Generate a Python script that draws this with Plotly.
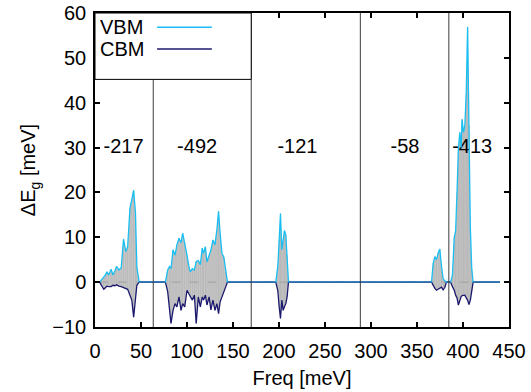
import plotly.graph_objects as go
import numpy as np

# ---- data ----
freq = [5, 7, 9.5, 11, 13, 15, 17.5, 19.5, 21.5, 23.5, 26, 28.5, 31, 33.5, 35.5, 38, 40, 42, 44, 45.5, 48,
        76.5, 79, 81, 82.6, 84.8, 87, 89, 91.3, 93.5, 95.3, 97.5, 100, 102, 103.6, 105.8, 108, 110, 112.3,
        114.5, 116.6, 118, 120, 121.7, 124, 126, 128.2, 130.4, 132.5, 134.3, 136, 138, 140, 142, 144,
        196.5, 198.7, 200.2, 201.6, 203.1, 204.5, 205.9, 207.4, 208.8, 210.3,
        365.8, 367.6, 369.4, 371.2, 373, 374.8, 376.6, 378.4, 380.2, 382,
        386.5, 388.5, 390.5, 392, 393.5, 395, 396.5, 398, 399, 400.5, 402, 403.5, 405, 406.5, 408, 409.5, 411,
        440]

vbm = [0, 0.5, 0.9, 1.5, 2.3, 1.6, 2.9, 1.6, 2.5, 3.5, 2.7, 3.2, 9.6, 6.8, 7.9, 16.5, 18.4, 20.5, 15.4, 3.4, 0,
       0, 2.7, 3.5, 3.0, 7.2, 6.0, 8.3, 9.8, 8.8, 10.9, 8.8, 6.0, 3.5, 2.3, 3.0, 2.7, 4.6, 4.8,
       3.9, 7.6, 6.4, 7.9, 4.5, 6.0, 7.2, 9.4, 8.3, 11.7, 15.8, 10.9, 6.4, 5.6, 2.3, 0,
       0, 3.5, 9.4, 15.3, 7.2, 9.0, 11.5, 10.5, 6.0, 0,
       0, 4.2, 5.7, 5.0, 6.5, 7.4, 3.6, 0.8, 0.3, 0,
       0, 1.5, 10.0, 11.5, 20, 29.6, 33.4, 30, 36.3, 33.4, 34.9, 42, 56.9, 35, 12, 3, 0,
       0]

cbm = [0, -0.8, -1.6, -1.3, -0.9, -1.0, -1.0, -0.7, -0.8, -0.6, -0.9, -1.0, -1.2, -1.4, -1.6, -2.9, -4.0, -7.8, -3.1, -0.7, 0,
       0, -2.1, -6.3, -9.2, -6.3, -4.8, -5.5, -3.3, -6.3, -4.8, -5.5, -1.8, -2.6, -3.3, -4.0, -2.9, -9.2, -3.3,
       -5.5, -3.3, -4.0, -2.9, -5.1, -3.3, -6.2, -4.0, -6.3, -4.8, -7.0, -4.4, -3.3, -2.2, -1.1, 0,
       0, -1.9, -5.5, -8.1, -4.0, -6.3, -5.5, -4.8, -3.3, 0,
       0, -0.8, -1.4, -1.8, -1.5, -1.2, -1.1, -1.7, -1.2, 0,
       0, -1.0, -1.8, -2.9, -3.5, -5.1, -4.0, -3.2, -3.0, -3.0, -2.9, -3.5, -4.0, -5.0, -4.0, -2.0, 0,
       0]

boundaries = [63.3, 169.8, 288.4, 384.6]
region_labels = ["-217", "-492", "-121", "-58", "-413"]
label_x = [31, 111, 220, 337, 410]
label_y = [30, 30, 30, 30, 30]

x_ticks = [0, 50, 100, 150, 200, 250, 300, 350, 400, 450]
y_ticks = [-10, 0, 10, 20, 30, 40, 50, 60]

VBM_COLOR = "#19bff2"
CBM_COLOR = "#1c1a6e"
FONT = "Liberation Sans, Arial, sans-serif"
FS = 20

fig = go.Figure()

# gray fill between CBM and VBM
fig.add_trace(go.Scatter(x=freq, y=cbm, mode="lines", line=dict(width=0, color="rgba(0,0,0,0)"),
                         showlegend=False, hoverinfo="skip"))
fig.add_trace(go.Scatter(x=freq, y=vbm, mode="lines", line=dict(width=0, color="rgba(0,0,0,0)"),
                         fill="tonexty", fillcolor="#c8c8c8", showlegend=False, hoverinfo="skip"))

# impulses inside the fill
ix, iy = [], []
for xv, lo, hi in zip(freq, cbm, vbm):
    if hi != lo:
        ix += [xv, xv, None]
        iy += [lo, hi, None]
fig.add_trace(go.Scatter(x=ix, y=iy, mode="lines", line=dict(width=1, color="#b8b8b8"),
                         showlegend=False, hoverinfo="skip"))

# dashed zero inside filled areas
fig.add_trace(go.Scatter(x=[freq[0], freq[-1]], y=[0, 0], mode="lines",
                         line=dict(width=1, color="#a0a0a0", dash="dash"),
                         showlegend=False, hoverinfo="skip"))

# region labels (over the fill, under the curves)
fig.add_trace(go.Scatter(x=label_x, y=label_y, mode="text", text=region_labels,
                         textfont=dict(family=FONT, size=FS, color="black"),
                         showlegend=False, hoverinfo="skip"))

fig.add_trace(go.Scatter(x=freq, y=cbm, mode="lines", name="CBM",
                         line=dict(width=1.3, color=CBM_COLOR), showlegend=False))
fig.add_trace(go.Scatter(x=freq, y=vbm, mode="lines", name="VBM",
                         line=dict(width=1.3, color=VBM_COLOR), showlegend=False))

# overlapping flat parts (both zero) look steel blue
zx, zy = [], []
for i in range(len(freq) - 1):
    if vbm[i] == 0 and vbm[i + 1] == 0 and cbm[i] == 0 and cbm[i + 1] == 0:
        zx += [freq[i], freq[i + 1], None]
        zy += [0, 0, None]
fig.add_trace(go.Scatter(x=zx, y=zy, mode="lines", line=dict(width=1.5, color="#2e66a6"),
                         showlegend=False, hoverinfo="skip"))

# vertical separators
shapes = []
legend_bottom = 45.2
for i, b in enumerate(boundaries):
    top = legend_bottom if b < boundaries[1] else 60
    shapes.append(dict(type="line", xref="x", yref="y", x0=b, x1=b, y0=-10, y1=top,
                       line=dict(color="#3c3c3c", width=1)))

# legend box (gnuplot style: text left, sample right)
shapes.append(dict(type="rect", xref="x", yref="y", x0=0, x1=boundaries[1], y0=legend_bottom, y1=60,
                   line=dict(color="black", width=1), fillcolor="white", layer="above"))
shapes.append(dict(type="line", xref="x", yref="y", x0=67.5, x1=127, y0=56.8, y1=56.8,
                   line=dict(color=VBM_COLOR, width=1.5), layer="above"))
shapes.append(dict(type="line", xref="x", yref="y", x0=67.5, x1=127, y0=52.0, y1=52.0,
                   line=dict(color=CBM_COLOR, width=1.5), layer="above"))

annotations = [
    dict(x=3.0, y=56.8, xref="x", yref="y", text="VBM", showarrow=False, xanchor="left",
         yanchor="middle", font=dict(family=FONT, size=FS, color="black")),
    dict(x=3.0, y=52.0, xref="x", yref="y", text="CBM", showarrow=False, xanchor="left",
         yanchor="middle", font=dict(family=FONT, size=FS, color="black")),
]

axis_common = dict(showline=True, linecolor="black", linewidth=1.5, mirror="ticks",
                   ticks="inside", ticklen=5, tickwidth=1.5, tickcolor="black",
                   showgrid=False, zeroline=False, automargin=False,
                   tickfont=dict(family=FONT, size=FS, color="black"))

fig.update_layout(
    width=531, height=392,
    margin=dict(l=95, r=22, t=13, b=65),
    paper_bgcolor="white", plot_bgcolor="white",
    shapes=shapes, annotations=annotations,
    xaxis=dict(range=[0, 450], tickvals=x_ticks, ticklabelstandoff=5,
               title=dict(text="Freq [meV]", font=dict(family=FONT, size=FS, color="black"), standoff=10),
               **axis_common),
    yaxis=dict(range=[-10, 60], tickvals=y_ticks, ticklabelstandoff=3,
               title=dict(text="ΔE<sub>g</sub> [meV]", font=dict(family=FONT, size=FS, color="black"), standoff=11),
               **axis_common),
)

fig.write_html("out.html")
